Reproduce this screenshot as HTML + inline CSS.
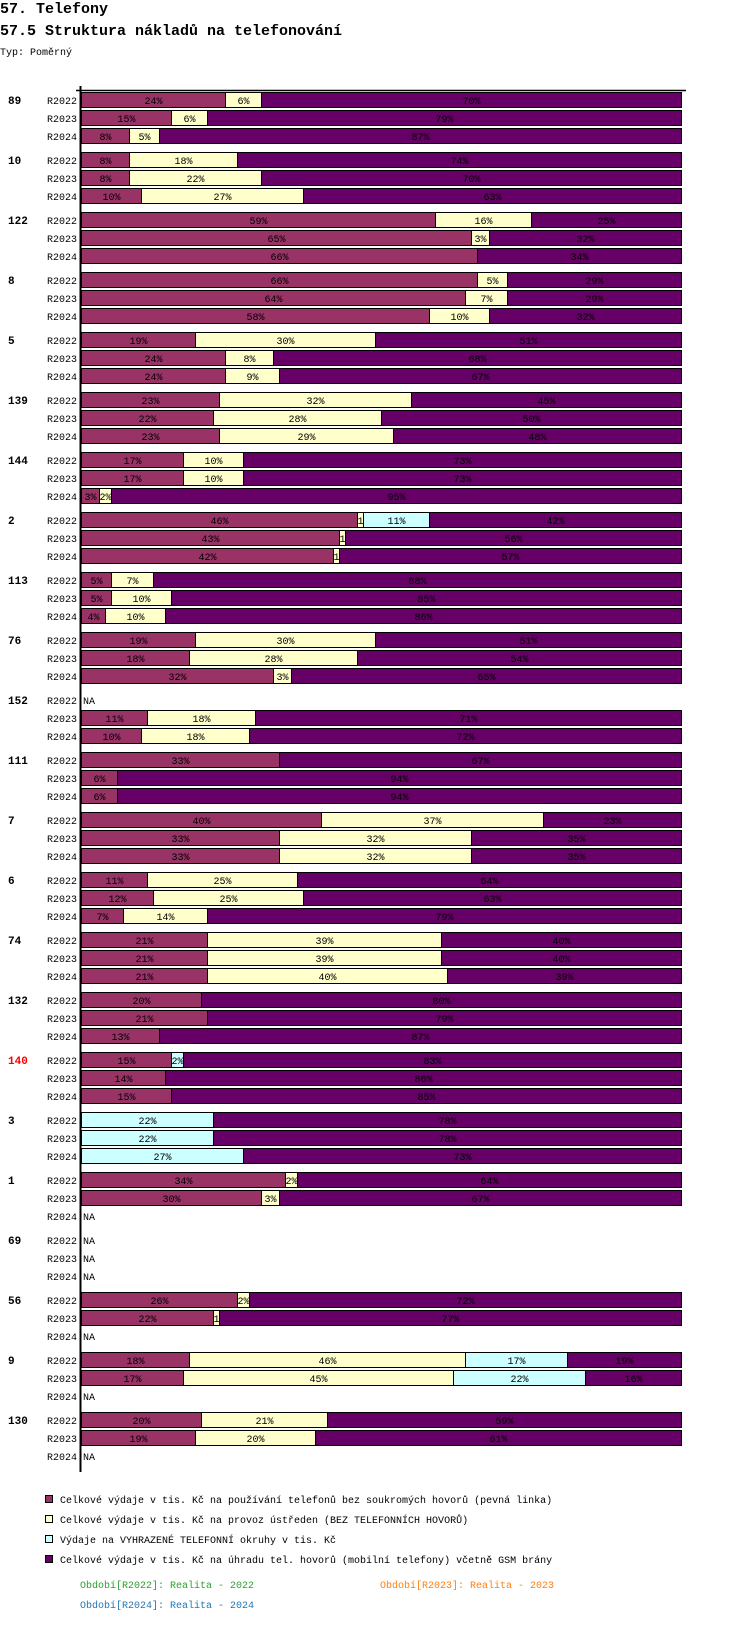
<!DOCTYPE html>
<html><head><meta charset="utf-8"><style>
html,body{margin:0;padding:0;background:#fff;width:750px;height:1642px;overflow:hidden}
svg text{font-family:"Liberation Mono","DejaVu Sans Mono",monospace}
</style></head><body>
<svg id="chart" width="750" height="1642" xmlns="http://www.w3.org/2000/svg">
<text x="0" y="13" font-size="15" font-weight="bold">57. Telefony</text>
<text x="0" y="35" font-size="15" font-weight="bold">57.5 Struktura nákladů na telefonování</text>
<text x="0" y="55" font-size="10">Typ: Poměrný</text>
<g id="bars"></g>
<line x1="80.5" y1="86" x2="80.5" y2="1472" stroke="#000" stroke-width="2"/>
<line x1="76" y1="90.5" x2="686" y2="90.5" stroke="#000" stroke-width="1.5"/>
<g>
<rect x="45.5" y="1495.5" width="7" height="7" fill="#993366" stroke="#000"/>
<text x="60" y="1503" font-size="10">Celkové výdaje v tis. Kč na používání telefonů bez soukromých hovorů (pevná linka)</text>
<rect x="45.5" y="1515.5" width="7" height="7" fill="#ffffcc" stroke="#000"/>
<text x="60" y="1523" font-size="10">Celkové výdaje v tis. Kč na provoz ústředen (BEZ TELEFONNÍCH HOVORŮ)</text>
<rect x="45.5" y="1535.5" width="7" height="7" fill="#ccffff" stroke="#000"/>
<text x="60" y="1543" font-size="10">Výdaje na VYHRAZENÉ TELEFONNÍ okruhy v tis. Kč</text>
<rect x="45.5" y="1555.5" width="7" height="7" fill="#660066" stroke="#000"/>
<text x="60" y="1563" font-size="10">Celkové výdaje v tis. Kč na úhradu tel. hovorů (mobilní telefony) včetně GSM brány</text>
<text x="80" y="1588" font-size="10" fill="#2ca02c">Období[R2022]: Realita - 2022</text>
<text x="380" y="1588" font-size="10" fill="#ff7f0e">Období[R2023]: Realita - 2023</text>
<text x="80" y="1608" font-size="10" fill="#1f77b4">Období[R2024]: Realita - 2024</text>
</g>
</svg>
<script>
const groups = ["89","10","122","8","5","139","144","2","113","76","152","111","7","6","74","132","140","3","1","69","56","9","130"];
const periods = ["R2022","R2023","R2024"];
const seriesColors = ["#993366","#ffffcc","#ccffff","#660066"];
const highlightGroups = ["140"];
// [fixed line, exchange, reserved lines, mobile] per period; null = NA
const values = [
 [[24,6,0,70],[15,6,0,79],[8,5,0,87]],
 [[8,18,0,74],[8,22,0,70],[10,27,0,63]],
 [[59,16,0,25],[65,3,0,32],[66,0,0,34]],
 [[66,5,0,29],[64,7,0,29],[58,10,0,32]],
 [[19,30,0,51],[24,8,0,68],[24,9,0,67]],
 [[23,32,0,45],[22,28,0,50],[23,29,0,48]],
 [[17,10,0,73],[17,10,0,73],[3,2,0,95]],
 [[46,1,11,42],[43,1,0,56],[42,1,0,57]],
 [[5,7,0,88],[5,10,0,85],[4,10,0,86]],
 [[19,30,0,51],[18,28,0,54],[32,3,0,65]],
 [null,[11,18,0,71],[10,18,0,72]],
 [[33,0,0,67],[6,0,0,94],[6,0,0,94]],
 [[40,37,0,23],[33,32,0,35],[33,32,0,35]],
 [[11,25,0,64],[12,25,0,63],[7,14,0,79]],
 [[21,39,0,40],[21,39,0,40],[21,40,0,39]],
 [[20,0,0,80],[21,0,0,79],[13,0,0,87]],
 [[15,0,2,83],[14,0,0,86],[15,0,0,85]],
 [[0,0,22,78],[0,0,22,78],[0,0,27,73]],
 [[34,2,0,64],[30,3,0,67],null],
 [null,null,null],
 [[26,2,0,72],[22,1,0,77],null],
 [[18,46,17,19],[17,45,22,16],null],
 [[20,21,0,59],[19,20,0,61],null]
];
const NS="http://www.w3.org/2000/svg";
const g=document.getElementById('bars');
const X0=81, XW=600, Y0=92, GP=60, RP=18, BH=16;
function xs(v){return X0+v/100*XW;}
function ys(gi,ri){return Y0+gi*GP+ri*RP;}
function mk(tag,attrs){const e=document.createElementNS(NS,tag);for(const k in attrs)e.setAttribute(k,attrs[k]);return e;}
groups.forEach((name,gi)=>{
  const gl=mk('text',{x:8,y:ys(gi,0)+12,'font-size':11,'font-weight':'bold',fill:highlightGroups.includes(name)?'#ff0000':'#000'});
  
  
  gl.textContent=name;g.appendChild(gl);
  periods.forEach((p,ri)=>{
    const y=ys(gi,ri);
    const pl=mk('text',{x:77,y:y+12,'font-size':10,'text-anchor':'end'});
    
    
    pl.textContent=p;g.appendChild(pl);
    const row=values[gi][ri];
    if(!row){
      const na=mk('text',{x:83,y:y+12,'font-size':10});
      
      
      na.textContent='NA';g.appendChild(na);return;
    }
    const total=row.reduce((a,b)=>a+b,0);
    let cum=0;
    row.forEach((v,si)=>{
      if(v<=0)return;
      const x1=xs(cum/total*100), x2=xs((cum+v)/total*100);
      cum+=v;
      const r=mk('rect',{x:x1+0.5,y:y+0.5,width:Math.max(x2-x1,1),height:BH-1,fill:seriesColors[si],stroke:'#000','stroke-width':1});
      
      
      g.appendChild(r);
      const t=mk('text',{x:(x1+x2)/2+0.5,y:y+12,'font-size':10,'text-anchor':'middle',fill:'#000'});
      
      
      t.textContent=(v<2)?String(v):v+'%';
      g.appendChild(t);
    });
  });
});
</script>
</body></html>
